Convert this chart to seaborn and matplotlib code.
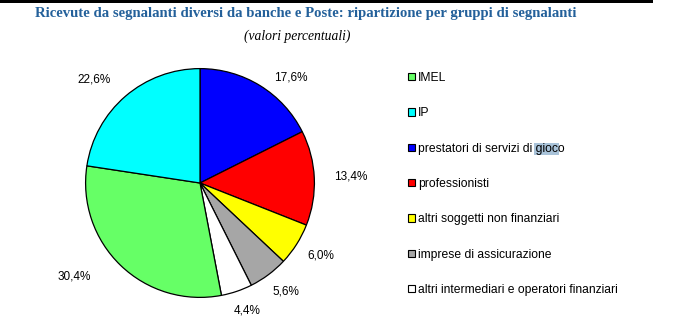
import numpy as np
import matplotlib
matplotlib.use("Agg")
import matplotlib.pyplot as plt
from matplotlib.patches import Patch, Rectangle
import seaborn as sns

# Shares by reporting group (percent)
categories = [
    "IMEL",
    "IP",
    "prestatori di servizi di gioco",
    "professionisti",
    "altri soggetti non finanziari",
    "imprese di assicurazione",
    "altri intermediari e operatori finanziari",
]
shares = [30.4, 22.6, 17.6, 13.4, 6.0, 5.6, 4.4]
colors = ["#66FF66", "#00FFFF", "#0000FF", "#FF0000", "#FFFF00", "#A6A6A6", "#FFFFFF"]

# Wedges run clockwise from 12 o'clock in this order
pie_order = [2, 3, 4, 5, 6, 0, 1]

title = "Ricevute da segnalanti diversi da banche e Poste: ripartizione per gruppi di segnalanti"
subtitle = "(valori percentuali)"

sns.set_theme(style="white")
plt.rcParams["font.family"] = ["Liberation Sans", "DejaVu Sans"]

W, H, DPI = 683, 326, 100
fig = plt.figure(figsize=(W / DPI, H / DPI), dpi=DPI)
fig.patch.set_facecolor("white")

# Pie axes: 1 data unit = 117 px, centre at (199, 184) px from the top-left
R = 117.0
cx, cy = 199.0, 184.0
ax_left, ax_right, ax_top, ax_bottom = 0.0, 400.0, 40.0, 326.0
ax = fig.add_axes([ax_left / W, 1 - ax_bottom / H, (ax_right - ax_left) / W, (ax_bottom - ax_top) / H])
ax.set_xlim((ax_left - cx) / R, (ax_right - cx) / R)
ax.set_ylim(-(ax_bottom - cy) / R, (cy - ax_top) / R)
ax.set_axis_off()

vals = [shares[i] for i in pie_order]
cols = [colors[i] for i in pie_order]
wedges, _ = ax.pie(
    vals, colors=cols, startangle=90, counterclock=False, radius=1.0,
    wedgeprops=dict(edgecolor="black", linewidth=0.9),
)

# Percent labels placed outside each wedge
label_dist = [1.22, 1.32, 1.23, 1.21, 1.19, 1.37, 1.30]
label_turn = [9.0, 0.0, -1.5, -1.5, -1.5, 9.5, -5.0]
for w, v, d, t in zip(wedges, vals, label_dist, label_turn):
    mid = np.deg2rad((w.theta1 + w.theta2) / 2.0 - t)
    ax.text(d * np.cos(mid), d * np.sin(mid), f"{v:.1f}%".replace(".", ","),
            ha="center", va="center", fontsize=8.5, color="black")

# Legend
handles = [Patch(facecolor=c, edgecolor="black", linewidth=0.8) for c in colors]
leg = fig.legend(
    handles, categories, loc="upper left", bbox_to_anchor=(408 / W, 1 - 72 / H),
    frameon=False, fontsize=8.7, handlelength=0.55, handleheight=0.55,
    handletextpad=0.25, labelspacing=1.93, borderaxespad=0.0, borderpad=0.0,
    labelcolor="black",
)

# Top rule
fig.add_artist(Rectangle((0, 1 - 3 / H), 653 / W, 3 / H, transform=fig.transFigure,
                         facecolor="black", edgecolor="none"))

# Text selection highlight over "gioc" in the legend
fig.canvas.draw()
renderer = fig.canvas.get_renderer()
txt = leg.get_texts()[2]
bb = txt.get_window_extent(renderer)
fp = txt.get_fontproperties()
w_to_c, _, _ = renderer.get_text_width_height_descent("prestatori di servizi di gioc", fp, ismath=False)
w_sel, _, _ = renderer.get_text_width_height_descent("gioc", fp, ismath=False)
x1 = bb.x0 + w_to_c + 1
x0 = x1 - w_sel - 2
yc = (bb.y0 + bb.y1) / 2.0 - 0.5
hh = 12.0
fig.add_artist(Rectangle((x0 / W, (yc - hh / 2) / H), (x1 - x0) / W, hh / H,
                         transform=fig.transFigure, facecolor="#A9C3D9",
                         edgecolor="none", zorder=0))

fig.text(306 / W, 1 - 13 / H, title, ha="center", va="center", fontsize=10.6,
         fontweight="bold", color="#23609A", family=["Liberation Serif", "DejaVu Serif"])
fig.text(297 / W, 1 - 36 / H, subtitle, ha="center", va="center", fontsize=9.8,
         style="italic", color="black", family=["Liberation Serif", "DejaVu Serif"])

fig.savefig("out.png", dpi=DPI, facecolor="white")
